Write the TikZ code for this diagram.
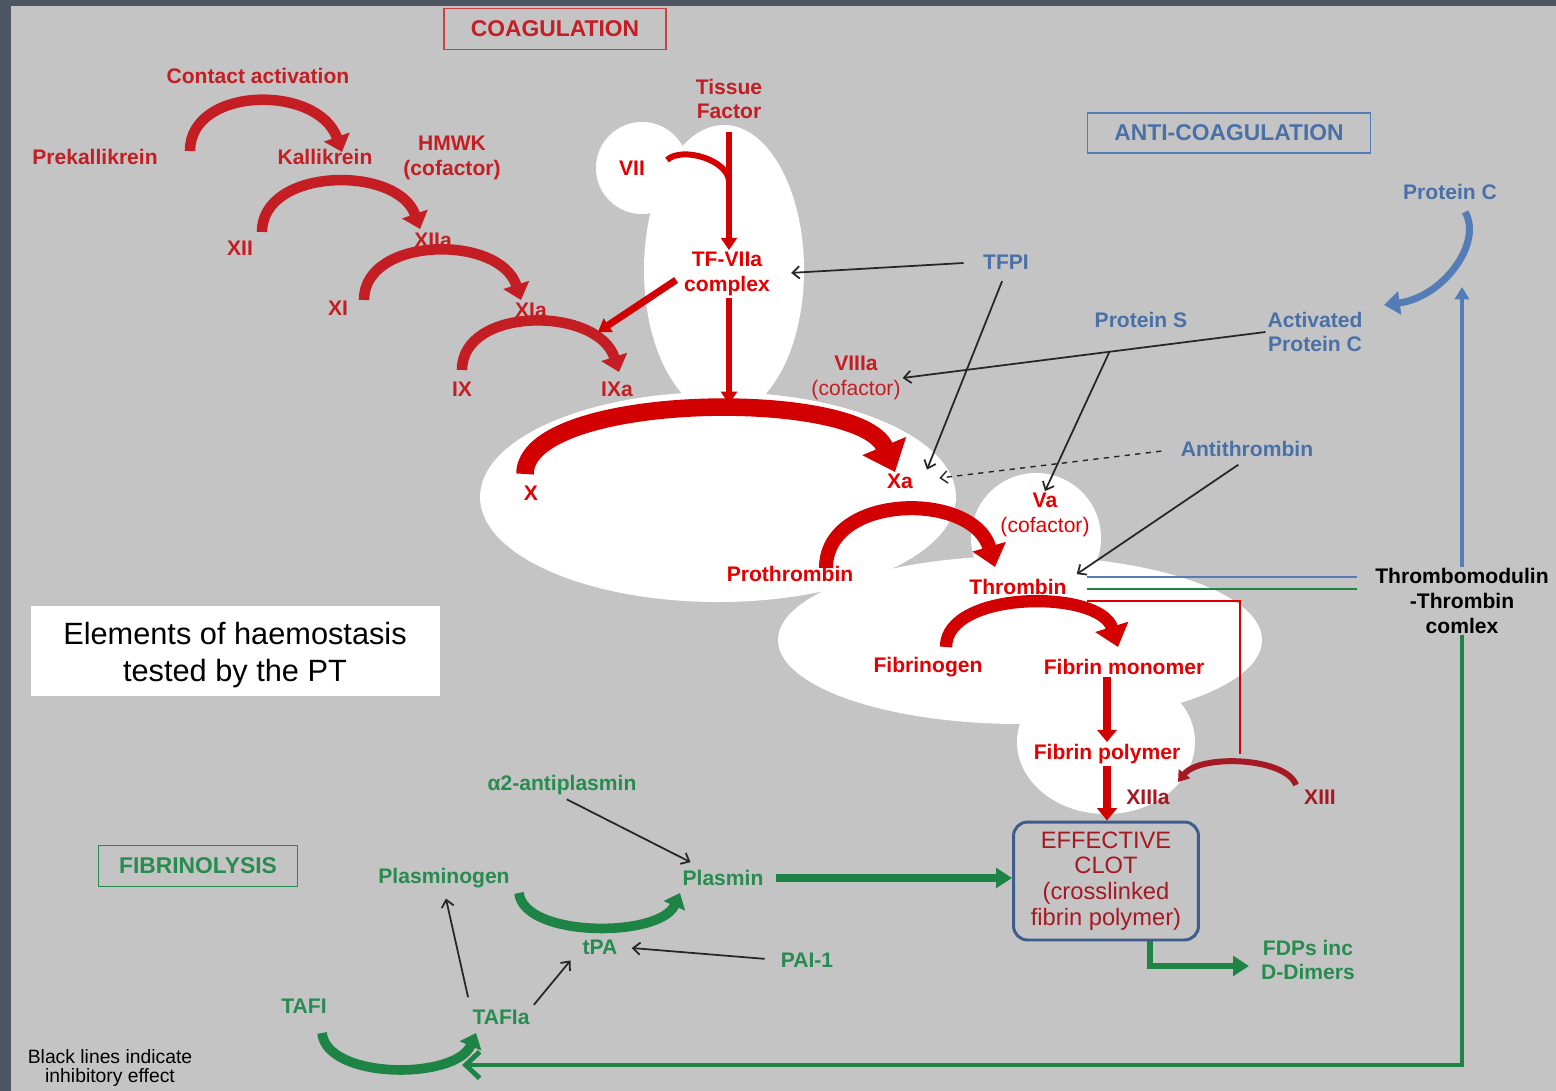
\documentclass[tikz,border=0pt]{standalone}
\usepackage{fontspec}
\setmainfont{Liberation Sans}
\usetikzlibrary{arrows.meta,calc}

\definecolor{slate}{RGB}{78,85,99}
\definecolor{panel}{RGB}{196,196,196}
\definecolor{cascred}{RGB}{196,30,36}
\definecolor{corered}{RGB}{228,0,0}
\definecolor{arcred}{RGB}{210,0,0}
\definecolor{dkred}{RGB}{165,25,35}
\definecolor{antiblue}{RGB}{74,112,168}
\definecolor{lineblue}{RGB}{84,124,182}
\definecolor{clotblue}{RGB}{62,92,140}
\definecolor{fibgreen}{RGB}{40,140,80}
\definecolor{linegreen}{RGB}{30,132,70}

\begin{document}
\begin{tikzpicture}[x=0.02cm,y=-0.02cm,
    lbl/.style={font=\fontsize{12}{14}\selectfont\bfseries,inner sep=1pt,align=center},
    casc/.style={lbl,text=cascred},
    core/.style={lbl,text=corered},
    anti/.style={lbl,text=antiblue},
    fibr/.style={lbl,text=fibgreen},
    titlebox/.style={draw,line width=0.8pt,inner sep=0pt,font=\fontsize{13}{15}\selectfont\bfseries},
    cascarc/.style={draw=cascred,line width=6pt,-{Triangle[length=9pt,width=15pt]}},
    corearc/.style={draw=arcred,line width=8pt,-{Triangle[length=12pt,width=19pt]}},
    redbar/.style={draw=arcred,line width=3.4pt,-{Triangle[length=7pt,width=9pt]}},
    fatbar/.style={draw=arcred,line width=4.5pt,-{Triangle[length=7pt,width=11pt]}},
    inhib/.style={draw=black!85,line width=1pt,-{Straight Barb[length=4pt,width=7pt]}},
    greenarc/.style={draw=linegreen,line width=5.5pt,-{Triangle[length=8pt,width=13pt]}},
    greenbar/.style={draw=linegreen,line width=4.5pt,-{Triangle[length=9pt,width=11pt]}}]
    \useasboundingbox (0,0) rectangle (1556,1091);
    \fill[slate] (0,0) rectangle (1556,1091);
    \fill[panel] (11,6) rectangle (1556,1091);
    \fill[white] (642,168) circle [radius=46];
    \fill[white] (724,270) ellipse [x radius=80, y radius=145];
    \fill[white] (718,497) ellipse [x radius=238, y radius=105];
    \fill[white] (1036,538) circle [radius=65];
    \fill[white] (1020,640) ellipse [x radius=242, y radius=84];
    \fill[white] (1106,742) ellipse [x radius=89, y radius=72];
    \fill[white] (31,606) rectangle (440,696);
    \node[titlebox,draw=cascred!85,text=cascred,minimum width=4.44cm,minimum height=0.82cm] (coag) at (555,29) {COAGULATION};
    \node[titlebox,draw=lineblue,text=antiblue,minimum width=5.66cm,minimum height=0.8cm] (anticoag) at (1229,133) {ANTI-COAGULATION};
    \node[titlebox,draw=fibgreen,text=fibgreen,minimum width=3.98cm,minimum height=0.82cm] (fibrin) at (198,866) {FIBRINOLYSIS};
    \node[align=center,font=\fontsize{17.5}{21.5}\selectfont] (elem) at (235,655) {Elements of haemostasis\\tested by the PT};
    \node[draw=clotblue,line width=1.7pt,rounded corners=8pt,minimum width=3.7cm,minimum height=2.36cm,align=center,text=dkred,font=\fontsize{13.5}{14.6}\selectfont] (clot) at (1106,881) {EFFECTIVE\\CLOT\\(crosslinked\\fibrin polymer)};
    \node[align=center,font=\fontsize{11}{11.3}\selectfont,inner sep=1pt] (note) at (110,1068) {Black lines indicate\\inhibitory effect};
      \node[casc] (contact) at (258,76) {Contact activation};
      \node[casc] (prek) at (95,157) {Prekallikrein};
      \node[casc] (kal) at (325,157) {Kallikrein};
      \node[casc] (hmwk) at (452,158) {HMWK\\(cofactor)};
      \node[casc] (xii) at (240,248) {XII};
      \node[casc] (xiia) at (433,240) {XIIa};
      \node[casc] (xi) at (338,308) {XI};
      \node[casc] (xia) at (531,310) {XIa};
      \node[casc] (ix) at (462,389) {IX};
      \node[casc] (ixa) at (617,389) {IXa};
      \node[casc] (tf) at (729,99) {Tissue\\Factor};
      \node[core] (vii) at (632,168) {VII};
      \node[core] (tfvii) at (727,274) {TF-VIIa\\complex};
      \node[casc] (viiia) at (856,378) {VIIIa\\{\mdseries (cofactor)}};
      \node[core] (x) at (531,493) {X};
      \node[core] (xa) at (900,481) {Xa};
      \node[core] (va) at (1045,515) {Va\\{\mdseries (cofactor)}};
      \node[core] (prot) at (790,574) {Prothrombin};
      \node[core] (thr) at (1018,587) {Thrombin};
      \node[core] (fgn) at (928,667) {Fibrinogen};
      \node[core] (fmono) at (1124,667) {Fibrin monomer};
      \node[core] (fpoly) at (1107,754) {Fibrin polymer};
      \node[lbl,text=dkred] (xiiia) at (1148,797) {XIIIa};
      \node[lbl,text=dkred] (xiii) at (1320,797) {XIII};
      \node[anti] (tfpi) at (1006,262) {TFPI};
      \node[anti] (prots) at (1141,320) {Protein S};
      \node[anti] (apc) at (1315,332) {Activated\\Protein C};
      \node[anti] (protc) at (1450,192) {Protein C};
      \node[anti] (athr) at (1247,449) {Antithrombin};
      \node[lbl] (tmtc) at (1462,601) {Thrombomodulin\\-Thrombin\\comlex};
      \node[fibr] (a2ap) at (562,785) {α2-antiplasmin};
      \node[fibr] (plg) at (444,878) {Plasminogen};
      \node[fibr] (pls) at (723,878) {Plasmin};
      \node[fibr] (tpa) at (600,947) {tPA};
      \node[fibr] (pai) at (807,960) {PAI-1};
      \node[fibr] (tafi) at (304,1006) {TAFI};
      \node[fibr] (tafia) at (501,1017) {TAFIa};
      \node[fibr] (fdp) at (1308,960) {FDPs inc\\D-Dimers};
    \coordinate (xtop) at (729,404);
    \coordinate (pctip) at ($(protc)+(12,95)$);
    \coordinate (apcmid) at ($(apc.west)!0.43!(viiia.east)$);
      \draw[cascarc] ($(prek)+(95,-6)$) .. controls +(0,-65) and +(-24,-68) .. ($(kal)+(17,-5)$);
      \draw[cascarc] ($(xii)+(22,-16)$) .. controls +(0,-65) and +(-22,-64) .. ($(xiia)+(-13,-11)$);
      \draw[cascarc] ($(xi)+(26,-8)$) .. controls +(0,-64) and +(-21,-66) .. ($(xia)+(-10,-10)$);
      \draw[cascarc] ($(ix)+(0,-19)$) .. controls +(0,-64) and +(-21,-66) .. ($(ixa)+(2,-17)$);
      \draw[corearc,line width=10pt,-{Triangle[length=16pt,width=26pt]}] ($(x)+(-6,-19)$)
        .. controls +(0,-82) and +(-35,-84) .. ($(xa)+(-5,-9)$);
      \draw[corearc] ($(prot)+(36,-6)$) .. controls +(0,-75) and +(-22,-76) .. ($(thr)+(-23,-20)$);
      \draw[corearc,line width=7pt] ($(fgn)+(18,-20)$) .. controls +(0,-57) and +(-18,-58) .. ($(fmono)+(-6,-20)$);
      \draw[draw=arcred,line width=3.4pt] ($(vii)+(35,-8)$) .. controls +(15,-14) and +(0,-22) .. ($(vii)+(97,14)$);
      \draw[redbar,shorten <=6pt] (tf.south) -- (tf.south |- tfvii.north);
      \draw[redbar] (tf.south |- tfvii.south) -- (xtop);
      \draw[redbar,line width=4pt] ($(tfvii.west)+(-6,6)$) -- ($(ixa)+(-19,-57)$);
      \draw[fatbar] (fpoly.north |- fmono.south) -- (fpoly.north);
      \draw[fatbar] (fpoly.south) -- (fpoly.south |- clot.north);
      \draw[draw=dkred,line width=3.4pt,-{Triangle[length=6pt,width=8pt]}] ($(xiii)+(-24,-12)$)
        .. controls +(-10,-28) and +(22,-28) .. ($(xiiia)+(30,-15)$);
      \draw[draw=lineblue,line width=1.2pt] ([shift={(18,-10)}]thr.east) -- +(270,0);
      \draw[draw=linegreen,line width=1.2pt] ([shift={(18,2)}]thr.east) -- +(270,0);
      \draw[draw=red!85!black,line width=1.2pt] ([shift={(18,14)}]thr.east) -| ([shift={(-80,-43)}]xiii.center);
      \draw[draw=lineblue,line width=2.8pt,-{Triangle[length=7pt,width=8pt]}] (tmtc.north) -- (pctip);
      \draw[draw=lineblue,line width=4pt,-{Triangle[length=9pt,width=13pt]}] ($(protc)+(15,20)$)
        .. controls +(18,30) and +(60,-8) .. ($(apc)+(69,-27)$);
      \draw[draw=linegreen,line width=2.8pt,-{Straight Barb[length=8pt,width=15pt]}] (tmtc.south)
        |- ([shift={(-39,48)}]tafia.center);
      \draw[greenbar,shorten <=6pt] (pls.east) -- (clot.west |- pls.east);
      \draw[greenbar,line width=3.4pt] ([shift={(44,0)}]clot.south) |- ([shift={(-10,6)}]fdp.west);
      \draw[greenarc] ($(plg)+(75,15)$) .. controls +(5,45) and +(-20,45) .. ($(pls)+(-43,15)$);
      \draw[greenarc] ($(tafi)+(18,27)$) .. controls +(5,47) and +(-20,47) .. ($(tafia)+(-25,16)$);
      \draw[inhib,shorten <=10pt,shorten >=11pt] (tfpi.west) -- (tfvii.east);
      \draw[inhib,shorten <=6pt] (tfpi.south) -- ([shift={(12,-2)}]xa.north east);
      \draw[inhib] (apc.west) -- (viiia.east);
      \draw[inhib] (apcmid) -- (va.north);
      \draw[inhib,dashed,line width=0.8pt,shorten <=10pt,shorten >=14pt] (athr.west) -- (xa.east);
      \draw[inhib,shorten <=6pt] (athr.south) -- ([shift={(8,-3)}]thr.north east);
      \draw[inhib,shorten <=3pt] (a2ap.south) -- ([shift={(10,-6)}]pls.north west);
      \draw[inhib,shorten <=8pt,shorten >=7pt] (pai.west) -- (tpa.east);
      \draw[inhib,shorten <=6pt,shorten >=5pt] (tafia.north west) -- (plg.south);
      \draw[inhib,shorten <=2pt] (tafia.north east) -- ([shift={(-10,4)}]tpa.south west);
  \end{tikzpicture}
\end{document}
